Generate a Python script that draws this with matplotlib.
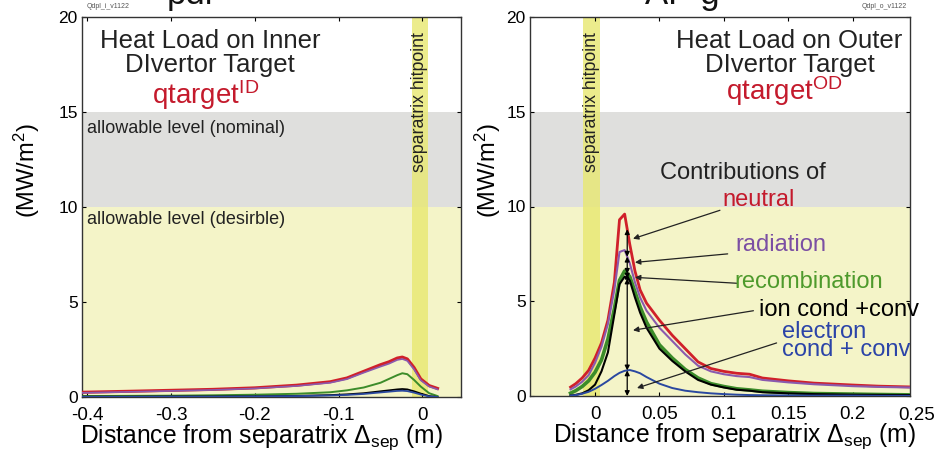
import numpy as np
import matplotlib
matplotlib.use('Agg')
import matplotlib.pyplot as plt

plt.rcParams['font.family'] = ['Liberation Sans', 'DejaVu Sans']
plt.rcParams['mathtext.fontset'] = 'custom'
plt.rcParams['mathtext.rm'] = 'Liberation Sans'
plt.rcParams['mathtext.it'] = 'Liberation Sans:italic'
plt.rcParams['mathtext.bf'] = 'Liberation Sans:bold'

# inner divertor target profiles (MW/m2)
x_in = [-0.405, -0.35, -0.3, -0.25, -0.2, -0.15, -0.11, -0.09, -0.07, -0.05,
        -0.04, -0.03, -0.024, -0.018, -0.01, -0.002, 0.008, 0.018]
red_in = [0.25, 0.3, 0.35, 0.4, 0.48, 0.62, 0.8, 1.0, 1.35, 1.7,
          1.85, 2.05, 2.1, 2.0, 1.55, 0.95, 0.6, 0.45]
purple_in = [0.22, 0.27, 0.32, 0.37, 0.45, 0.58, 0.75, 0.94, 1.28, 1.6,
             1.75, 1.95, 2.0, 1.9, 1.45, 0.88, 0.55, 0.4]
green_in = [0.05, 0.06, 0.07, 0.09, 0.12, 0.17, 0.25, 0.35, 0.5, 0.75,
            0.95, 1.15, 1.25, 1.2, 0.9, 0.55, 0.2, 0.05]
black_in = [0.02, 0.02, 0.03, 0.03, 0.04, 0.06, 0.1, 0.14, 0.2, 0.3,
            0.35, 0.4, 0.42, 0.4, 0.3, 0.18, 0.05, 0.0]
blue_in = [0.01, 0.01, 0.02, 0.02, 0.03, 0.05, 0.08, 0.11, 0.16, 0.24,
           0.28, 0.32, 0.33, 0.31, 0.23, 0.13, 0.03, 0.0]

# outer divertor target profiles (MW/m2)
x_out = [-0.019, -0.015, -0.01, -0.005, 0.0, 0.005, 0.01, 0.015, 0.019, 0.023,
         0.027, 0.031, 0.035, 0.04, 0.05, 0.06, 0.07, 0.08, 0.09, 0.1,
         0.11, 0.12, 0.13, 0.15, 0.17, 0.2, 0.22, 0.244]
red_out = [0.47, 0.65, 0.95, 1.35, 2.0, 2.8, 4.0, 6.0, 9.3, 9.6,
           8.0, 6.6, 5.6, 4.9, 4.0, 3.2, 2.5, 1.8, 1.45, 1.3,
           1.2, 1.15, 0.95, 0.8, 0.68, 0.58, 0.52, 0.48]
purple_out = [0.35, 0.5, 0.75, 1.1, 1.75, 2.6, 3.8, 5.6, 7.6, 7.7,
              7.0, 6.0, 5.2, 4.5, 3.6, 2.9, 2.2, 1.6, 1.3, 1.15,
              1.05, 1.0, 0.85, 0.72, 0.62, 0.52, 0.48, 0.45]
green_out = [0.15, 0.28, 0.5, 0.8, 1.25, 1.9, 3.0, 4.6, 6.1, 6.6,
             6.3, 5.5, 4.7, 3.9, 2.7, 2.0, 1.4, 0.95, 0.65, 0.5,
             0.38, 0.32, 0.25, 0.18, 0.13, 0.1, 0.08, 0.06]
black_out = [0.02, 0.06, 0.14, 0.3, 0.6, 1.3, 2.3, 4.3, 5.9, 6.3,
             6.1, 5.2, 4.4, 3.6, 2.5, 1.85, 1.3, 0.85, 0.6, 0.45,
             0.33, 0.28, 0.2, 0.14, 0.1, 0.07, 0.06, 0.05]
blue_out = [0.02, 0.05, 0.12, 0.22, 0.38, 0.58, 0.8, 1.05, 1.22, 1.33,
            1.37, 1.3, 1.2, 1.0, 0.65, 0.42, 0.28, 0.2, 0.14, 0.1,
            0.07, 0.05, 0.04, 0.03, 0.02, 0.02, 0.01, 0.01]

yticks = [0, 5, 10, 15, 20]
xticks_in = [-0.4, -0.3, -0.2, -0.1, 0]
xticklabels_in = ['-0.4', '-0.3', '-0.2', '-0.1', '0']
xticks_out = [0, 0.05, 0.1, 0.15, 0.2]
xticklabels_out = ['0', '0.05', '0.1', '0.15', '0.2']

C_RED = '#d0202a'
C_PURPLE = '#8a5aae'
C_GREEN = '#3c8c2a'
C_BLUE = '#2a48a0'
T_RED = '#c41a2c'
T_PURPLE = '#7b4fa3'
T_GREEN = '#4e9a2c'
T_BLUE = '#2b44a8'

fig = plt.figure(figsize=(9.45, 4.53), dpi=100)
ax1 = fig.add_axes([82/945, 56/453, 379/945, 380/453])
ax2 = fig.add_axes([530/945, 57/453, 380/945, 379/453])


def setup(ax, xlim, sep_band, ylab_x, xlab_x):
    ax.set_xlim(*xlim)
    ax.set_ylim(0, 20)
    ax.axhspan(0, 10, color='#f4f4c8', lw=0, zorder=0)
    ax.axhspan(10, 15, color='#dfdfdd', lw=0, zorder=0)
    ax.axvspan(sep_band[0], sep_band[1], color='#e8e870', alpha=0.8, lw=0, zorder=1)
    ax.set_yticks(yticks)
    ax.tick_params(axis='y', labelsize=12.5, direction='in', length=3,
                   right=True, pad=3)
    ax.tick_params(axis='x', labelsize=13.5, direction='in', length=3,
                   top=True, pad=7)
    for s in ax.spines.values():
        s.set_color('#333333')
        s.set_linewidth(1.0)
    ax.set_xlabel(r'Distance from separatrix $\Delta_{\mathregular{sep}}$ (m)',
                  fontsize=17.7)
    ax.xaxis.set_label_coords(xlab_x, -0.066)
    ax.set_ylabel(r'(MW/m$^{\mathregular{2}}$)', fontsize=17)
    ax.yaxis.set_label_coords(ylab_x, 0.595)


# inner target
setup(ax1, (-0.406, 0.046), (-0.013, 0.007), -0.106, 0.475)
ax1.set_xticks(xticks_in)
ax1.set_xticklabels(xticklabels_in)
ax1.plot(x_in, red_in, color=C_RED, lw=2.2, zorder=3)
ax1.plot(x_in, purple_in, color=C_PURPLE, lw=1.2, zorder=4)
ax1.plot(x_in, green_in, color=C_GREEN, lw=1.4, zorder=3)
ax1.plot(x_in, black_in, color='black', lw=1.3, zorder=3)
ax1.plot(x_in, blue_in, color=C_BLUE, lw=1.3, zorder=4)

ax1.text(-0.253, 19.35, 'Heat Load on Inner\nDIvertor Target', ha='center', va='top',
         fontsize=18.5, linespacing=1.0, color='#222222')
ax1.text(-0.259, 15.4, r'$\mathregular{qtarget^{ID}}$', ha='center', va='baseline',
         fontsize=20, color=T_RED)
ax1.text(-0.4, 14.15, 'allowable level (nominal)', ha='left', va='center',
         fontsize=13, color='#222222')
ax1.text(-0.4, 9.35, 'allowable level (desirble)', ha='left', va='center',
         fontsize=13, color='#222222')
ax1.text(-0.003, 19.2, 'separatrix hitpoint', rotation=90, ha='center', va='top',
         fontsize=12.8, color='#222222')

# outer target
setup(ax2, (-0.0505, 0.2446), (-0.0095, 0.004), -0.072, 0.539)
ax2.set_xticks(xticks_out)
ax2.set_xticklabels(xticklabels_out)
ax2.text(0.25, -0.028, '0.25', transform=ax2.get_xaxis_transform(), ha='center',
         va='top', fontsize=13.5, clip_on=False)
ax2.text(-0.0028, 19.2, 'separatrix hitpoint', rotation=90, ha='center', va='top',
         fontsize=12.8, color='#222222')
ax2.plot(x_out, red_out, color=C_RED, lw=2.0, zorder=3)
ax2.plot(x_out, purple_out, color=C_PURPLE, lw=1.5, zorder=3)
ax2.plot(x_out, green_out, color=C_GREEN, lw=2.6, zorder=3)
ax2.plot(x_out, black_out, color='black', lw=1.5, zorder=3)
ax2.plot(x_out, blue_out, color=C_BLUE, lw=1.4, zorder=3)

# stacked contributions at the peak
arrow_x = 0.025
levels = [0.0] + [float(np.interp(arrow_x, x_out, c))
                  for c in (blue_out, black_out, green_out, purple_out, red_out)]
for lo, hi in zip(levels[:-1], levels[1:]):
    ax2.annotate('', xy=(arrow_x, lo), xytext=(arrow_x, hi), zorder=5,
                 arrowprops=dict(arrowstyle='<|-|>', color='black', lw=0.9,
                                 mutation_scale=7, shrinkA=0, shrinkB=0))

ax2.text(0.151, 19.35, 'Heat Load on Outer\nDIvertor Target', ha='center', va='top',
         fontsize=18.5, linespacing=1.0, color='#222222')
ax2.text(0.147, 15.6, r'$\mathregular{qtarget^{OD}}$', ha='center', va='baseline',
         fontsize=20, color=T_RED)
ax2.text(0.115, 11.75, 'Contributions of', ha='center', va='center', fontsize=17,
         color='#222222')

labels = [('neutral', T_RED, (0.127, 10.35), 'center', (0.0295, 8.3), (0.097, 9.8)),
          ('radiation', T_PURPLE, (0.144, 7.95), 'center', (0.031, 7.05), (0.103, 7.5)),
          ('recombination', T_GREEN, (0.108, 6.0), 'left', (0.031, 6.26), (0.110, 5.95)),
          ('ion cond +conv', 'black', (0.127, 4.55), 'left', (0.0295, 3.47), (0.123, 4.5)),
          ('electron\ncond + conv', T_BLUE, (0.145, 2.9), 'left', (0.0326, 0.42), (0.141, 2.8))]
for txt, col, pos, ha, tip, start in labels:
    ax2.text(pos[0], pos[1], txt, ha=ha, va='center', fontsize=17, color=col,
             linespacing=0.72, zorder=6)
    ax2.annotate('', xy=tip, xytext=start, zorder=5,
                 arrowprops=dict(arrowstyle='-|>', color='#222222', lw=0.9,
                                 mutation_scale=8, shrinkA=0, shrinkB=0))

# file tags and slide title remnants
fig.text(87/945, 1 - 6/453, 'Qdpl_i_v1122', fontsize=5, color='#555555', va='center')
fig.text(907/945, 1 - 6/453, 'Qdpl_o_v1122', fontsize=5, color='#555555', va='center',
         ha='right')
fig.text(167/945, 1 - 4/453, 'pdl', fontsize=25, va='baseline', color='#111111')
fig.text(645/945, 1 - 4/453, 'AP g', fontsize=25, va='baseline', color='#111111')

fig.savefig('out.png', dpi=100)
